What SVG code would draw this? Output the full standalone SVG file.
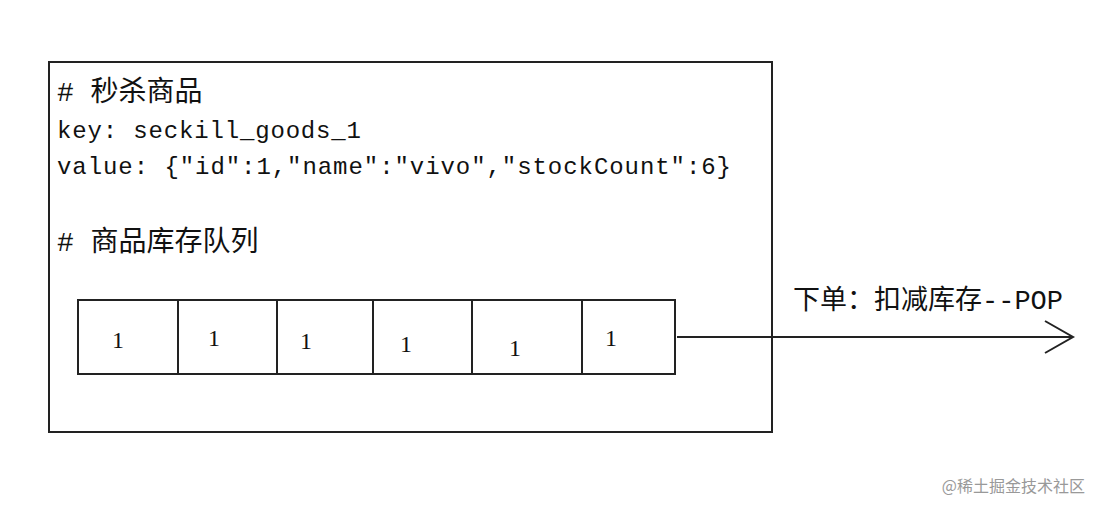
<svg xmlns="http://www.w3.org/2000/svg" width="1100" height="512" viewBox="0 0 1100 512">
<style>
.m{font-family:"Liberation Mono","Noto Sans CJK SC",monospace;font-size:24px;fill:#111}
.k{font-size:28px}
.c{font-family:"Liberation Serif",serif;font-size:24px;fill:#111}
.l{fill:none;stroke:#222;stroke-width:2}
</style>
<rect width="1100" height="512" fill="#fff"/>
<g id="box"><rect class="l" x="49" y="62" width="723" height="370"/>
<text class="m k" x="57" y="101"># 秒杀商品</text>
<text class="m" x="57" y="138" textLength="304">key: seckill_goods_1</text>
<text class="m" x="57" y="174" textLength="674">value: {"id":1,"name":"vivo","stockCount":6}</text>
<text class="m k" x="57" y="251"># 商品库存队列</text>
</g>
<g id="queue"><rect class="l" x="78" y="300" width="597" height="74"/>
<path class="l" d="M178,300V374M277,300V374M373,300V374M472,300V374M582,300V374"/>
<text class="c" x="112" y="348">1</text><text class="c" x="208" y="346">1</text><text class="c" x="300" y="349">1</text><text class="c" x="400" y="352">1</text><text class="c" x="509" y="356">1</text><text class="c" x="605" y="346">1</text>
</g>
<g id="connectors"><path class="l" d="M677,337H1073M1045,321L1073,337L1045,353"/></g>
<text class="m" x="793" y="309" style="font-size:27px">下单：扣减库存--POP</text>
<text x="1085" y="492" text-anchor="end" style="font-family:'Noto Sans CJK SC',sans-serif;font-size:16px;fill:#999">@稀土掘金技术社区</text>
</svg>
